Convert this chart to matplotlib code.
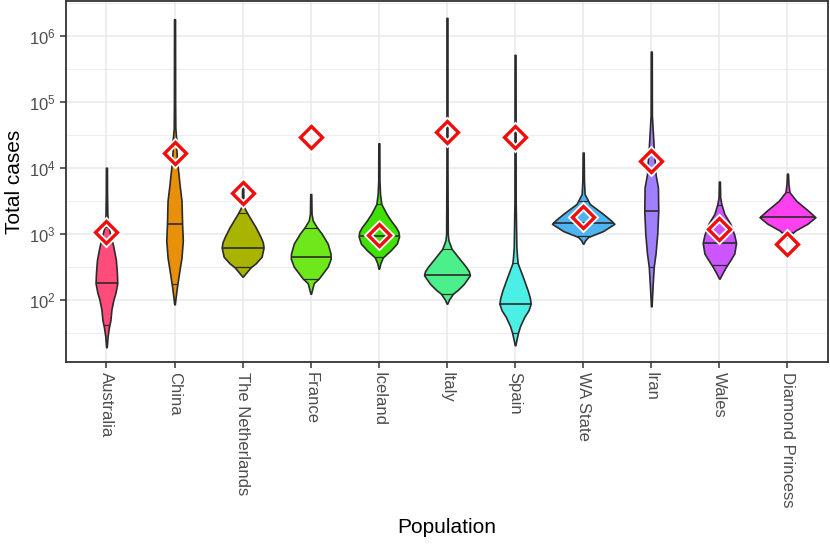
import numpy as np
import matplotlib
matplotlib.use("Agg")
import matplotlib.pyplot as plt
from matplotlib.ticker import FixedLocator, LogFormatterMathtext, NullFormatter

plt.rcParams['font.family'] = ['Liberation Sans', 'DejaVu Sans']
plt.rcParams['mathtext.fontset'] = 'custom'
plt.rcParams['mathtext.rm'] = 'Liberation Sans'

# populations on the x axis
populations = ["Australia", "China", "The Netherlands", "France", "Iceland", "Italy",
               "Spain", "WA State", "Iran", "Wales", "Diamond Princess"]

fill_colors = ["#FF4C7A", "#E8900A", "#A8B400", "#6EE81A", "#40E000", "#4CF08A",
               "#4CEFE6", "#4DB4F0", "#A080FF", "#CC55FF", "#FF40F0"]

# observed total cases (red diamonds)
observed = [1070, 16600, 4200, 29500, 960, 35000, 29000, 1800, 12600, 1170, 710]

# median of the simulated totals
medians = [178, 1380, 617, 437, 910, 235, 87, 1440, 2200, 720, 1780]

# 2.5% / 97.5% quantile lines (log10)
q_low = [1.61, 2.24, 2.49, 2.32, 2.64, 2.09, 1.50, 2.96, 2.49, 2.52, 3.02]
q_high = [3.10, 4.45, 3.31, 3.08, 3.45, 2.77, 2.56, 3.50, 4.31, 3.43, 3.63]

# violin outlines: log10(total cases) and half width (px)
aus_log = [4.00, 3.60, 3.30, 3.10, 2.95, 2.80, 2.60, 2.40, 2.25, 2.10, 2.00, 1.85, 1.69, 1.59, 1.45, 1.28]
aus_w = [0.5, 0.6, 0.9, 2.0, 4.5, 7.0, 9.5, 10.5, 10.9, 9.0, 7.0, 5.0, 4.0, 2.6, 1.2, 0.3]
chn_log = [6.25, 5.00, 4.60, 4.47, 4.40, 4.30, 4.10, 3.90, 3.75, 3.50, 3.14, 2.90, 2.64, 2.45, 2.20, 2.05, 1.93]
chn_w = [0.5, 0.6, 0.8, 1.5, 2.3, 1.8, 2.5, 4.0, 5.0, 7.0, 7.6, 8.3, 7.0, 5.0, 2.5, 1.2, 0.3]
ned_log = [3.73, 3.55, 3.40, 3.30, 3.20, 3.10, 2.95, 2.87, 2.79, 2.65, 2.55, 2.49, 2.40, 2.35]
ned_w = [0.5, 0.7, 1.5, 5.0, 9.0, 13.0, 18.0, 20.2, 21.0, 19.0, 13.0, 8.0, 3.0, 0.3]
fra_log = [3.60, 3.30, 3.20, 3.10, 3.00, 2.85, 2.70, 2.62, 2.50, 2.40, 2.32, 2.25, 2.09]
fra_w = [0.5, 0.8, 2.0, 6.0, 11.0, 17.0, 19.8, 20.0, 17.0, 12.0, 8.0, 3.0, 0.3]
ice_log = [4.37, 3.80, 3.60, 3.45, 3.30, 3.20, 3.10, 3.03, 2.96, 2.85, 2.75, 2.64, 2.55, 2.47]
ice_w = [0.5, 0.6, 1.2, 2.5, 7.7, 12.0, 17.0, 19.6, 20.3, 18.0, 12.0, 4.0, 1.5, 0.3]
ita_log = [6.27, 4.00, 3.00, 2.90, 2.77, 2.65, 2.50, 2.43, 2.37, 2.24, 2.15, 2.09, 2.00, 1.94]
ita_w = [0.5, 0.5, 0.8, 1.5, 4.7, 11.0, 19.0, 22.0, 23.0, 17.0, 11.0, 6.0, 2.0, 0.3]
esp_log = [5.71, 3.50, 2.80, 2.65, 2.55, 2.35, 2.14, 2.03, 1.94, 1.84, 1.74, 1.60, 1.50, 1.40, 1.31]
esp_w = [0.5, 0.6, 1.3, 2.0, 2.7, 7.7, 12.7, 14.8, 15.7, 13.5, 9.3, 5.0, 3.0, 1.5, 0.3]
was_log = [4.23, 3.80, 3.60, 3.45, 3.30, 3.20, 3.15, 3.04, 2.95, 2.90, 2.85]
was_w = [0.5, 0.8, 1.5, 6.7, 20.0, 28.0, 31.3, 20.0, 5.0, 2.0, 0.3]
irn_log = [5.76, 4.80, 4.43, 4.30, 4.10, 3.90, 3.70, 3.34, 3.00, 2.70, 2.50, 2.25, 1.90]
irn_w = [0.5, 0.6, 2.0, 2.5, 3.5, 4.3, 6.7, 7.0, 6.0, 4.3, 2.5, 1.5, 0.3]
wal_log = [3.79, 3.55, 3.45, 3.30, 3.15, 2.98, 2.86, 2.70, 2.60, 2.50, 2.40, 2.32]
wal_w = [0.5, 0.8, 2.0, 5.0, 11.0, 15.0, 16.7, 15.0, 11.0, 6.7, 3.0, 0.3]
dpr_log = [3.91, 3.75, 3.63, 3.50, 3.35, 3.25, 3.15, 3.05, 2.98, 2.94]
dpr_w = [0.5, 1.0, 2.0, 8.7, 20.7, 28.0, 20.0, 8.0, 3.0, 0.3]

outline_logs = [aus_log, chn_log, ned_log, fra_log, ice_log, ita_log, esp_log, was_log, irn_log, wal_log, dpr_log]
outline_widths = [aus_w, chn_w, ned_w, fra_w, ice_w, ita_w, esp_w, was_w, irn_w, wal_w, dpr_w]

px_per_unit = 68.3
edge = "#2b2b2b"

fig = plt.figure(figsize=(8.3, 5.5), dpi=100)
ax = fig.add_axes([0.079, 0.342, 0.919, 0.656])
ax.set_yscale("log")

positions = np.arange(1, len(populations) + 1)

for i, pos in enumerate(positions):
    lg = np.array(outline_logs[i])
    hw = np.array(outline_widths[i]) / px_per_unit
    yv = 10 ** lg
    ax.fill_betweenx(yv, pos - hw, pos + hw, facecolor=fill_colors[i],
                     edgecolor=edge, linewidth=1.2, zorder=3)
    # median + quantile lines, cut to the violin width
    for q, lw in [(np.log10(medians[i]), 1.2), (q_low[i], 0.9), (q_high[i], 0.8)]:
        w = np.interp(q, lg[::-1], hw[::-1])
        ax.plot([pos - w, pos + w], [10 ** q, 10 ** q], color=edge, lw=lw,
                zorder=4, solid_capstyle="butt")

# observed values: open red diamond with a white halo
ax.plot(positions, observed, linestyle="none", marker="D", ms=11.5,
        markerfacecolor="none", markeredgecolor="white", markeredgewidth=5, zorder=5)
ax.plot(positions, observed, linestyle="none", marker="D", ms=11.5,
        markerfacecolor="none", markeredgecolor="#F20D0D", markeredgewidth=2.4, zorder=6)

ax.set_xlim(0.4, len(populations) + 0.6)
ax.set_ylim(10 ** 1.057, 10 ** 6.525)

ax.set_xticks(positions)
ax.set_xticklabels(populations, rotation=-90, fontsize=12, color="#4D4D4D")
ax.yaxis.set_major_locator(FixedLocator([1e2, 1e3, 1e4, 1e5, 1e6]))
ax.yaxis.set_major_formatter(LogFormatterMathtext())
ax.yaxis.set_minor_locator(FixedLocator([10 ** 1.5, 10 ** 2.5, 10 ** 3.5, 10 ** 4.5, 10 ** 5.5, 10 ** 6.5]))
ax.yaxis.set_minor_formatter(NullFormatter())
ax.tick_params(axis="y", which="major", labelsize=12, labelcolor="#4D4D4D")
ax.tick_params(which="major", length=4, width=1.1, color="#333333", pad=3)
ax.tick_params(which="minor", length=0)

ax.grid(True, which="major", color="#EBEBEB", linewidth=1.2, zorder=0)
ax.grid(True, which="minor", axis="y", color="#EBEBEB", linewidth=0.6, zorder=0)
ax.set_axisbelow(True)

for s in ax.spines.values():
    s.set_color("#333333")
    s.set_linewidth(1.3)

ax.set_ylabel("Total cases", fontsize=15, labelpad=4)
ax.set_xlabel("Population", fontsize=15, labelpad=8)

fig.savefig("out.png", dpi=100)
